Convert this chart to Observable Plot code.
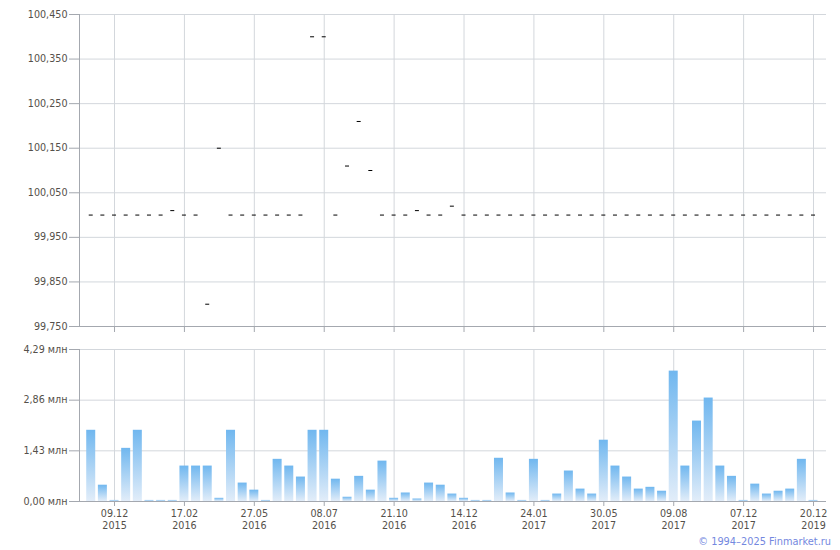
<!DOCTYPE html>
<html>
<head>
<meta charset="utf-8">
<script src="https://cdn.jsdelivr.net/npm/d3@7"></script>
<script src="https://cdn.jsdelivr.net/npm/@observablehq/plot@0.6"></script>
<style>
  body { margin: 0; background: #fff; }
  #chart { position: relative; width: 840px; height: 550px; background: #fff; }
  #copy { position: absolute; right: 9px; top: 536px; font: 9.8px "DejaVu Sans", sans-serif; color: #7488e0; }
</style>
</head>
<body>
<div id="chart">
  <div id="priceBox"></div>
  <div id="volBox"></div>
  <div id="copy">© 1994–2025 Finmarket.ru</div>
</div>
<script>
// Price (close) per trading point, index 0..62
const prices = [
  100.00, 100.00, 100.00, 100.00, 100.00, 100.00, 100.00, 100.01, 100.00, 100.00,
  99.80, 100.15, 100.00, 100.00, 100.00, 100.00, 100.00, 100.00, 100.00, 100.40,
  100.40, 100.00, 100.11, 100.21, 100.10, 100.00, 100.00, 100.00, 100.01, 100.00,
  100.00, 100.02, 100.00, 100.00, 100.00, 100.00, 100.00, 100.00, 100.00, 100.00,
  100.00, 100.00, 100.00, 100.00, 100.00, 100.00, 100.00, 100.00, 100.00, 100.00,
  100.00, 100.00, 100.00, 100.00, 100.00, 100.00, 100.00, 100.00, 100.00, 100.00,
  100.00, 100.00, 100.00
];
// Volume, млн
const volumes = [
  2.01, 0.46, 0.03, 1.50, 2.01, 0.03, 0.03, 0.03, 1.00, 1.00,
  1.00, 0.09, 2.01, 0.52, 0.32, 0.03, 1.19, 1.00, 0.69, 2.01,
  2.01, 0.63, 0.12, 0.71, 0.32, 1.14, 0.09, 0.24, 0.07, 0.52,
  0.46, 0.21, 0.09, 0.03, 0.03, 1.22, 0.24, 0.03, 1.19, 0.03,
  0.21, 0.86, 0.35, 0.21, 1.73, 1.00, 0.69, 0.35, 0.40, 0.29,
  3.68, 1.00, 2.27, 2.92, 1.00, 0.71, 0.03, 0.49, 0.21, 0.29,
  0.35, 1.19, 0.03
];
const tickIndex = [2, 8, 14, 20, 26, 32, 38, 44, 50, 56, 62];
const tickDays  = ["09.12", "17.02", "27.05", "08.07", "21.10", "14.12", "24.01", "30.05", "09.08", "07.12", "20.12"];
const tickYears = ["2015", "2016", "2016", "2016", "2016", "2016", "2017", "2017", "2017", "2017", "2019"];
const priceTicks = [99.75, 99.85, 99.95, 100.05, 100.15, 100.25, 100.35, 100.45];
const volumeTicks = [0, 1.43, 2.86, 4.29];

const idx = d3.range(prices.length);
const priceData = idx.map(i => ({i, price: prices[i]}));
const volData = idx.map(i => ({i, vol: volumes[i]}));

const gridColor = "#d3d7dc";
const axisColor = "#a4a8af";
const textColor = "#54504a";
const style = {fontFamily: "DejaVu Sans, sans-serif", fontSize: "9.6px", color: textColor, background: "#fff"};
const xScale = {type: "band", domain: idx, paddingInner: 0.2275, paddingOuter: 0.674, align: 0.46, axis: null};

const priceChart = Plot.plot({
  width: 840, height: 340,
  marginLeft: 79, marginRight: 14, marginTop: 14, marginBottom: 14,
  style,
  x: xScale,
  y: {domain: [99.75, 100.45], axis: null},
  marks: [
    Plot.gridY(priceTicks, {stroke: gridColor, strokeOpacity: 1}),
    Plot.gridX(tickIndex, {stroke: gridColor, strokeOpacity: 1}),
    Plot.tickY(priceData, {x: "i", y: "price", stroke: "#000", strokeWidth: 1, insetLeft: 2.5, insetRight: 2.5}),
    Plot.ruleY([99.75], {stroke: axisColor}),
    Plot.frame({anchor: "left", stroke: axisColor}),
    Plot.axisY(priceTicks, {label: null, tickSize: 10, tickPadding: 2, stroke: axisColor, fill: textColor,
      tickFormat: d => d.toFixed(3).replace(".", ",")}),
    Plot.axisX(tickIndex, {label: null, tickSize: 6, stroke: axisColor, tickFormat: () => ""})
  ]
});

const volChart = Plot.plot({
  width: 840, height: 210,
  marginLeft: 79, marginRight: 14, marginTop: 9, marginBottom: 49,
  style,
  x: xScale,
  y: {domain: [0, 4.29], axis: null},
  marks: [
    Plot.gridY(volumeTicks, {stroke: gridColor, strokeOpacity: 1}),
    Plot.gridX(tickIndex, {stroke: gridColor, strokeOpacity: 1}),
    Plot.barY(volData, {x: "i", y: "vol", fill: "url(#volGrad)"}),
    Plot.ruleY([0], {stroke: axisColor}),
    Plot.frame({anchor: "left", stroke: axisColor}),
    Plot.axisY(volumeTicks, {label: null, tickSize: 10, tickPadding: 2, stroke: axisColor, fill: textColor,
      tickFormat: d => d.toFixed(2).replace(".", ",") + " млн"}),
    Plot.axisX(tickIndex, {label: null, tickSize: 5, tickPadding: 2, stroke: axisColor, fill: textColor, lineHeight: 1.25,
      tickFormat: i => tickDays[tickIndex.indexOf(i)] + "\n" + tickYears[tickIndex.indexOf(i)]})
  ]
});

// gradient for the volume bars (per-bar, top to bottom)
const defs = d3.select(volChart).insert("defs", ":first-child");
const grad = defs.append("linearGradient").attr("id", "volGrad").attr("x1", 0).attr("y1", 0).attr("x2", 0).attr("y2", 1);
grad.append("stop").attr("offset", "0%").attr("stop-color", "#70b7ef");
grad.append("stop").attr("offset", "100%").attr("stop-color", "#e2edf9");

document.getElementById("priceBox").appendChild(priceChart);
document.getElementById("volBox").appendChild(volChart);
</script>
</body>
</html>
